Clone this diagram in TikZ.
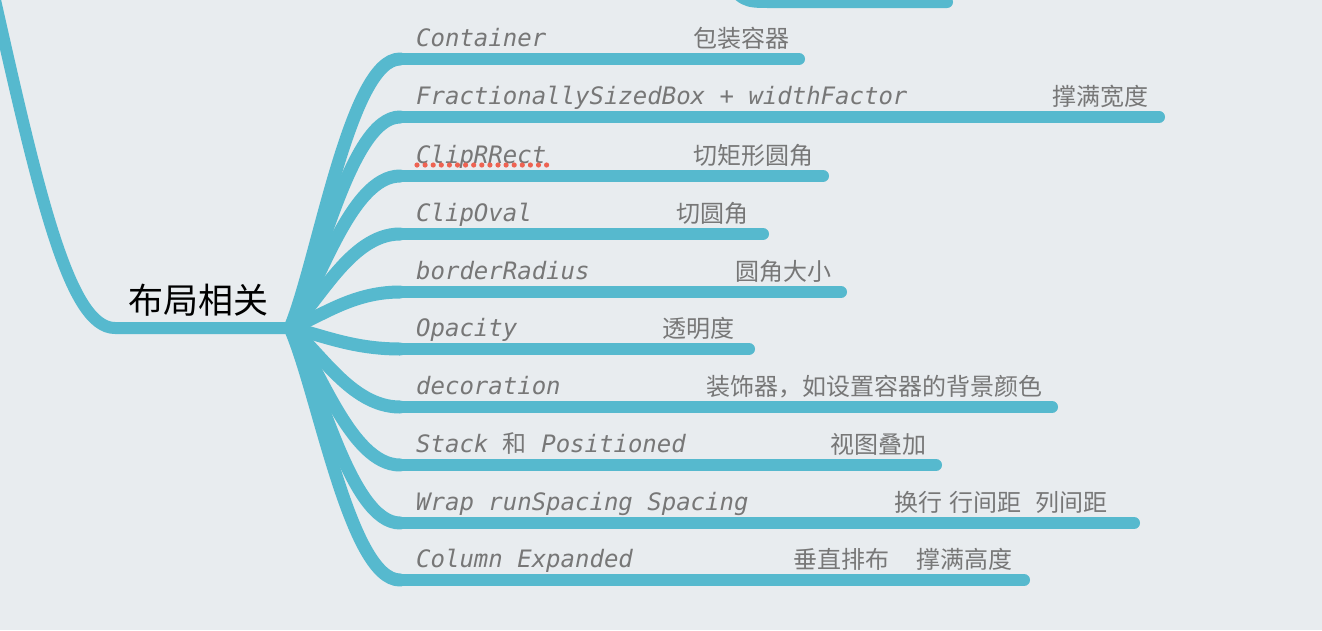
\documentclass[tikz,border=0pt]{standalone}
\usepackage{fontspec}
\newfontfamily\monof{DejaVu Sans Mono}
\newfontfamily\cjkf{Noto Sans CJK SC}
\definecolor{bg}{HTML}{E8ECEF}
\definecolor{br}{HTML}{56B9CE}
\definecolor{tx}{HTML}{777777}
\definecolor{sp}{HTML}{EE6352}
\begin{document}
\begin{tikzpicture}[x=1pt,y=-1pt,
  branch/.style={draw=br,line width=12pt,line cap=round,line join=round},
  curve/.style={draw=br,line width=13pt,line cap=round,line join=round},
  code/.style={anchor=base west,inner sep=0pt,text=tx,font=\fontsize{24}{28}\selectfont\monof\itshape},
  note/.style={anchor=base west,inner sep=0pt,text=tx,font=\fontsize{24}{28}\selectfont\cjkf}]
\useasboundingbox (0,0) rectangle (1322,630);
\fill[bg] (0,0) rectangle (1322,630);
% trunk
\coordinate (root) at (290,328);
\coordinate (trunktop) at (-5,0);
\coordinate (trunkbend) at (115,328);
\draw[branch] (trunktop) .. controls (40,200) and (70,328) .. (trunkbend) -- (root);
% partial branch at top
\coordinate (p0) at (722,-25);
\coordinate (p1) at (770,2);
\coordinate (p2) at (947,2);
\draw[branch] (p0) .. controls (742,2) and (745,2) .. (p1) -- (p2);
% branches
\foreach \n/\y/\xe in {0/59/799, 1/117/1159, 2/176/823, 3/234/763, 4/292/841, 5/349/749, 6/407/1052, 7/465/936, 8/523/1134, 9/580/1024} {
  \coordinate (s\n) at (400,\y);
  \coordinate (e\n) at (\xe,\y);
  \pgfmathsetmacro\cy{328+0.25*(\y-328)}
  \draw[curve] (root) .. controls (318,\cy) and (350,\y) .. (s\n);
  \draw[branch] (s\n) -- (e\n);
}
% root label
\node[anchor=base,inner sep=0pt,font=\fontsize{35}{40}\selectfont\cjkf] (rootlab) at (198,313) {布局相关};
% code labels
\node[code] (l0) at (416,46) {Container};
\node[code] (l1) at (416,104) {FractionallySizedBox + widthFactor};
\node[code] (l2) at (416,163) {ClipRRect};
\node[code] (l3) at (416,221) {ClipOval};
\node[code] (l4) at (416,279) {borderRadius};
\node[code] (l5) at (416,336) {Opacity};
\node[code] (l6) at (416,394) {decoration};
\node[code] (l7) at (416,452) {Stack {\cjkf\upshape 和} Positioned};
\node[code] (l8) at (416,510) {Wrap runSpacing Spacing};
\node[code] (l9) at (416,567) {Column Expanded};
% spell-check dots under ClipRRect
\foreach \k in {0,...,16} \fill[sp] (417+\k*8.1,165) circle[radius=2.6pt];
% notes
\node[note] (n0) at (693,47) {包装容器};
\node[note] (n1) at (1052,105) {撑满宽度};
\node[note] (n2) at (693,164) {切矩形圆角};
\node[note] (n3) at (676,222) {切圆角};
\node[note] (n4) at (735,280) {圆角大小};
\node[note] (n5) at (662,337) {透明度};
\node[note] (n6) at (706,395) {装饰器，如设置容器的背景颜色};
\node[note] (n7) at (830,453) {视图叠加};
\node[note] (n8) at (894,511) {换行\hspace{7pt}行间距\hspace{14pt}列间距};
\node[note] (n9) at (793,568) {垂直排布\hspace{27pt}撑满高度};
\end{tikzpicture}
\end{document}
